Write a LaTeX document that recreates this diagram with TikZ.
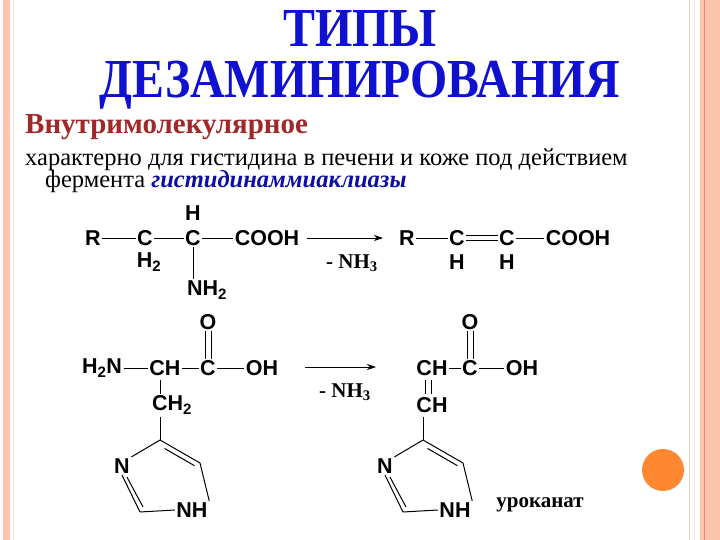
\documentclass[tikz,border=0pt]{standalone}
\usepackage{fontspec}
\setmainfont{Liberation Serif}
\newfontfamily\chemf{Liberation Sans}
\usetikzlibrary{arrows.meta,calc}
\definecolor{pinkA}{HTML}{FFC4AE}
\definecolor{pinkL}{HTML}{F08A70}
\definecolor{titleblue}{HTML}{1010D0}
\definecolor{subred}{HTML}{A02828}
\definecolor{orng}{HTML}{FF8830}
\tikzset{
 atm/.style={font=\chemf\bfseries\fontsize{21.5}{22}\selectfont, inner sep=1.5pt},
 bond/.style={line width=1pt},
 rxn/.style={line width=1pt,-{Stealth[length=9pt,width=6pt]}},
 lbl/.style={font=\bfseries\fontsize{21}{22}\selectfont, inner sep=0pt},
 ttl/.style={text=titleblue,font=\rmfamily\bfseries\fontsize{55}{55}\selectfont,xscale=0.87,inner sep=0pt},
}
\begin{document}
\begin{tikzpicture}[x=1pt,y=-1pt]
\useasboundingbox (0,0) rectangle (720,540);
\fill[white] (0,0) rectangle (720,540);
% frame
\fill[pinkA] (3,0) rectangle (10,540);
\draw[pinkA!60,line width=0.6pt] (13,0) -- (13,540);
\draw[brown!40,line width=0.8pt] (689,0) -- (689,540);
\draw[pinkA!50,line width=0.8pt] (694,0) -- (694,540);
\fill[pinkA] (700,0) rectangle (720,540);
\draw[pinkL,line width=0.8pt] (704,0) -- (704,540);
\fill[orng] (663,470) circle (21);
% titles
\node (t1) [ttl] at (360,28) {ТИПЫ};
\node (t2) [ttl] at (360,85) {ДЕЗАМИНИРОВАНИЯ};
\node (sub) [anchor=west,text=subred,font=\bfseries\fontsize{29}{30}\selectfont,inner sep=0pt] at (25,127) {Внутримолекулярное};
\node (d1) [anchor=west,font=\fontsize{24.5}{25}\selectfont,inner sep=0pt] at (25,160) {характерно для гистидина в печени и коже под действием};
\node (d2) [anchor=west,font=\fontsize{24.5}{25}\selectfont,inner sep=0pt] at (45,182) {фермента \textcolor{titleblue!80!black}{\bfseries\itshape гистидинаммиаклиазы}};
% reaction 1
\node[atm] (r1) at (93,238) {R};
\node[atm] (c1) at (145,238) {C};
\node[atm] (c2) at (193,238) {C};
\node[atm] (co1) at (267,238) {COOH};
\node[atm] (h1) at (193,213) {H};
\node[atm] (h21) at (149,262) {H\textsubscript{2}};
\node[atm] (nh2) at (207,290) {NH\textsubscript{2}};
\draw[bond] (r1) -- (c1); \draw[bond] (c1) -- (c2); \draw[bond] (c2) -- (co1);
\draw[bond] (c2.south) -- (c2.south |- nh2.north);
\node[lbl] (m1) at (352,263) {- NH\textsubscript{3}};
\coordinate (a1s) at (307,238); \coordinate (a1e) at (383,238);
\draw[rxn] (a1s) -- (a1e);
\node[atm] (r2) at (407,238) {R};
\node[atm] (c3) at (457,238) {C};
\node[atm] (c4) at (507,238) {C};
\node[atm] (co2) at (578,238) {COOH};
\node[atm] (h3) at (457,262) {H};
\node[atm] (h4) at (507,262) {H};
\draw[bond] (r2) -- (c3); \draw[bond] (c4) -- (co2);
\draw[bond] ([yshift=-2.5pt]c3.east) -- ([yshift=-2.5pt]c4.west);
\draw[bond] ([yshift=2.5pt]c3.east) -- ([yshift=2.5pt]c4.west);
% reaction 2 - histidine
\node[atm] (o1) at (208,322) {O};
\node[atm] (h2n) at (102,368) {H\textsubscript{2}N};
\node[atm] (ch1) at (165,368) {CH};
\node[atm] (cc1) at (208,368) {C};
\node[atm] (oh1) at (262,368) {OH};
\node[atm] (ch21) at (172,405) {CH\textsubscript{2}};
\draw[bond] (h2n) -- (ch1); \draw[bond] (ch1) -- (cc1); \draw[bond] (cc1) -- (oh1);
\draw[bond] ([xshift=-3pt]cc1.north) -- ([xshift=-3pt]o1.south);
\draw[bond] ([xshift=3pt]cc1.north) -- ([xshift=3pt]o1.south);
\draw[bond] (160,380) -- (160,394);
\coordinate (T1) at (160,440);
\coordinate (R1) at (200,463);
\coordinate (B1) at (140,512);
\node[atm] (n1) at (122,466) {N};
\node[atm] (nh1) at (192,510) {NH};
\draw[bond] (160,417) -- (T1);
\draw[bond] (T1) -- (R1);
\draw[bond] ($(T1)!0.15!(R1)+(-1.5,5)$) -- ($(T1)!0.9!(R1)+(-1.5,5)$);
\draw[bond] (R1) -- (nh1.north east);
\draw[bond] (nh1.west) -- (B1);
\draw[bond] (B1) -- (n1.south);
\draw[bond] (T1) -- (n1.north east);
\draw[bond] ($(B1)+(3,-5)$) -- ($(n1.south)+(5,2)$);
\node[lbl] (m2) at (345,392) {- NH\textsubscript{3}};
\coordinate (a2s) at (305,367); \coordinate (a2e) at (376,367);
\draw[rxn] (a2s) -- (a2e);
% urocanate
\node[atm] (o2) at (470,322) {O};
\node[atm] (ch3) at (432,368) {CH};
\node[atm] (cc2) at (470,368) {C};
\node[atm] (oh2) at (522,368) {OH};
\node[atm] (ch4) at (432,405) {CH};
\draw[bond] (ch3) -- (cc2); \draw[bond] (cc2) -- (oh2);
\draw[bond] ([xshift=-3pt]cc2.north) -- ([xshift=-3pt]o2.south);
\draw[bond] ([xshift=3pt]cc2.north) -- ([xshift=3pt]o2.south);
\draw[bond] (425,380) -- (425,394);
\draw[bond] (431,380) -- (431,394);
\coordinate (T2) at (423,440);
\coordinate (R2) at (463,463);
\coordinate (B2) at (403,512);
\node[atm] (n2) at (385,466) {N};
\node[atm] (nh3) at (455,510) {NH};
\draw[bond] (423,417) -- (T2);
\draw[bond] (T2) -- (R2);
\draw[bond] ($(T2)!0.15!(R2)+(-1.5,5)$) -- ($(T2)!0.9!(R2)+(-1.5,5)$);
\draw[bond] (R2) -- (nh3.north east);
\draw[bond] (nh3.west) -- (B2);
\draw[bond] (B2) -- (n2.south);
\draw[bond] (T2) -- (n2.north east);
\draw[bond] ($(B2)+(3,-5)$) -- ($(n2.south)+(5,2)$);
\node[lbl] (uro) at (540,505) {уроканат};
\end{tikzpicture}
\end{document}
